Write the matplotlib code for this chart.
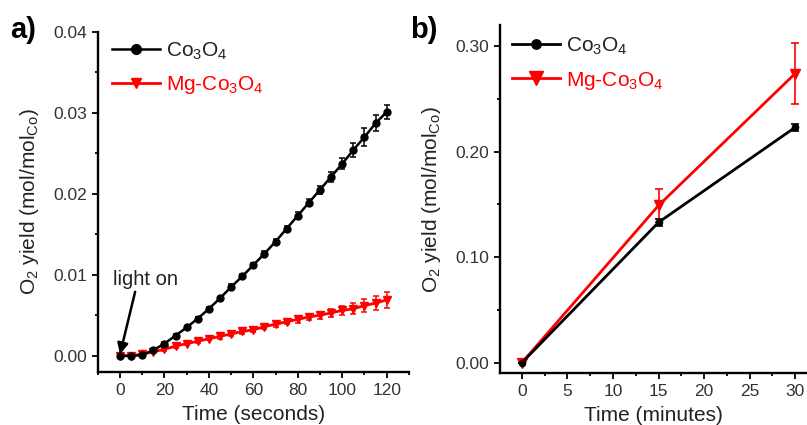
import numpy as np
import matplotlib
matplotlib.use("Agg")
import matplotlib.pyplot as plt
from matplotlib.ticker import MultipleLocator, FormatStrFormatter

plt.rcParams['font.family'] = ['Liberation Sans', 'DejaVu Sans']
plt.rcParams['mathtext.fontset'] = 'custom'
plt.rcParams['mathtext.rm'] = 'Liberation Sans'
plt.rcParams['mathtext.it'] = 'Liberation Sans:italic'
plt.rcParams['mathtext.bf'] = 'Liberation Sans:bold'

# ---------------- data: panel a ----------------
time_s = [0, 5, 10, 15, 20, 25, 30, 35, 40, 45, 50, 55, 60, 65, 70, 75, 80,
          85, 90, 95, 100, 105, 110, 115, 120]
co3o4_a = [0.0000, 0.0000, 0.0001, 0.0007, 0.0015, 0.0025, 0.0035, 0.0046,
           0.0058, 0.0071, 0.0085, 0.0098, 0.0112, 0.0126, 0.0141, 0.0157,
           0.0173, 0.0189, 0.0205, 0.0221, 0.0237, 0.0254, 0.0270, 0.0287,
           0.0301]
co3o4_a_err = [0.0001, 0.0001, 0.0001, 0.0001, 0.0002, 0.0002, 0.0002, 0.0002,
               0.0002, 0.0002, 0.0003, 0.0003, 0.0003, 0.0003, 0.0003, 0.0003,
               0.0004, 0.0004, 0.0005, 0.0006, 0.0007, 0.0009, 0.0011, 0.0010,
               0.0009]
mg_a = [0.0000, 0.0000, 0.0002, 0.0005, 0.0008, 0.0012, 0.0015, 0.0018,
        0.0021, 0.0024, 0.0027, 0.0030, 0.0032, 0.0036, 0.0039, 0.0042,
        0.0045, 0.0048, 0.0050, 0.0053, 0.0056, 0.0058, 0.0062, 0.0065,
        0.0069]
mg_a_err = [0.0001, 0.0001, 0.0001, 0.0002, 0.0002, 0.0002, 0.0002, 0.0002,
            0.0002, 0.0003, 0.0003, 0.0003, 0.0003, 0.0003, 0.0003, 0.0003,
            0.0004, 0.0004, 0.0004, 0.0005, 0.0006, 0.0007, 0.0008, 0.0009,
            0.0010]

# ---------------- data: panel b ----------------
time_min = [0, 15, 30]
co3o4_b = [0.000, 0.133, 0.223]
co3o4_b_err = [0.000, 0.003, 0.003]
mg_b = [0.000, 0.149, 0.274]
mg_b_err = [0.000, 0.016, 0.029]

labels = ['Co$_3$O$_4$', 'Mg-Co$_3$O$_4$']
RED = '#ff0000'
TXT = '#222222'

fig = plt.figure(figsize=(8.07, 4.25), dpi=100)
W, H = 807, 425
def axrect(l, r, t, b):
    return [l / W, 1 - b / H, (r - l) / W, (b - t) / H]

ax1 = fig.add_axes(axrect(97.8, 408.9, 31.7, 372))
ax2 = fig.add_axes(axrect(500, 807, 25, 373.3))

def style(ax):
    for s in ['top', 'right']:
        ax.spines[s].set_visible(False)
    for s in ['left', 'bottom']:
        ax.spines[s].set_linewidth(1.7)
    ax.tick_params(which='major', direction='out', length=4.2, width=1.3,
                   labelsize=12.5, pad=3.5, colors='black', labelcolor='#333333')
    ax.tick_params(which='minor', direction='out', length=2.4, width=1.3)

# ---- panel a ----
kw_err = dict(capsize=2.5, elinewidth=1.1, capthick=1.1)
h_mg = ax1.errorbar(time_s, mg_a, yerr=mg_a_err, fmt='-v', color=RED, lw=2.0,
                    ms=5.5, **kw_err)
h_co = ax1.errorbar(time_s, co3o4_a, yerr=co3o4_a_err, fmt='-o', color='black',
                    lw=1.8, ms=5, **kw_err)
ax1.set_xlim(-10, 130)
ax1.set_ylim(-0.002, 0.04)
ax1.xaxis.set_major_locator(MultipleLocator(20))
ax1.xaxis.set_minor_locator(MultipleLocator(10))
ax1.yaxis.set_major_locator(MultipleLocator(0.01))
ax1.yaxis.set_minor_locator(MultipleLocator(0.005))
ax1.yaxis.set_major_formatter(FormatStrFormatter('%.2f'))
style(ax1)
ax1.set_xlabel('Time (seconds)', fontsize=15, color=TXT, labelpad=5)
ax1.set_ylabel('O$_2$ yield (mol/mol$_{\\mathrm{Co}}$)', fontsize=15, color=TXT,
               labelpad=9)
leg1 = ax1.legend([h_co[0], h_mg[0]], labels, loc='upper left',
                  bbox_to_anchor=(0.045, 0.975), frameon=False, fontsize=15,
                  handlelength=2.3, handletextpad=0.3, labelspacing=0.62,
                  borderpad=0, borderaxespad=0, markerscale=1.4)
leg1.get_texts()[0].set_color(TXT)
leg1.get_texts()[1].set_color(RED)

light_text_xy = (-3.2, 0.0087)
arrow_tail = (6.8, 0.0079)
arrow_head = (0.0, 0.0002)
ax1.text(*light_text_xy, 'light on', fontsize=14.5, color=TXT, ha='left',
         va='baseline')
ax1.annotate('', xy=arrow_head, xytext=arrow_tail,
             arrowprops=dict(arrowstyle='-|>', color='black', lw=1.8,
                             mutation_scale=16, shrinkA=0, shrinkB=0))

# ---- panel b ----
h_mg_b = ax2.errorbar(time_min, mg_b, yerr=mg_b_err, fmt='-v', color=RED,
                      lw=2.0, ms=6.5, capsize=3, elinewidth=1.2, capthick=1.2)
h_co_b = ax2.errorbar(time_min, co3o4_b, yerr=co3o4_b_err, fmt='-o',
                      color='black', lw=2.0, ms=4.5, capsize=3, elinewidth=1.2,
                      capthick=1.2)
ax2.set_xlim(-2.4, 31.3)
ax2.set_ylim(-0.01, 0.32)
ax2.xaxis.set_major_locator(MultipleLocator(5))
ax2.xaxis.set_minor_locator(MultipleLocator(2.5))
ax2.yaxis.set_major_locator(MultipleLocator(0.1))
ax2.yaxis.set_minor_locator(MultipleLocator(0.05))
ax2.yaxis.set_major_formatter(FormatStrFormatter('%.2f'))
style(ax2)
ax2.set_xlabel('Time (minutes)', fontsize=15, color=TXT, labelpad=5)
ax2.set_ylabel('O$_2$ yield (mol/mol$_{\\mathrm{Co}}$)', fontsize=15, color=TXT,
               labelpad=9)
leg2 = ax2.legend([h_co_b[0], h_mg_b[0]], labels, loc='upper left',
                  bbox_to_anchor=(0.04, 0.97), frameon=False, fontsize=15,
                  handlelength=2.3, handletextpad=0.3, labelspacing=0.62,
                  borderpad=0, borderaxespad=0, markerscale=1.5)
leg2.get_texts()[0].set_color(TXT)
leg2.get_texts()[1].set_color(RED)

fig.text(10 / W, 1 - 38 / H, 'a)', fontsize=21, fontweight='bold',
         va='baseline', ha='left')
fig.text(410 / W, 1 - 38 / H, 'b)', fontsize=21, fontweight='bold',
         va='baseline', ha='left')

fig.savefig('out.png', dpi=100)
